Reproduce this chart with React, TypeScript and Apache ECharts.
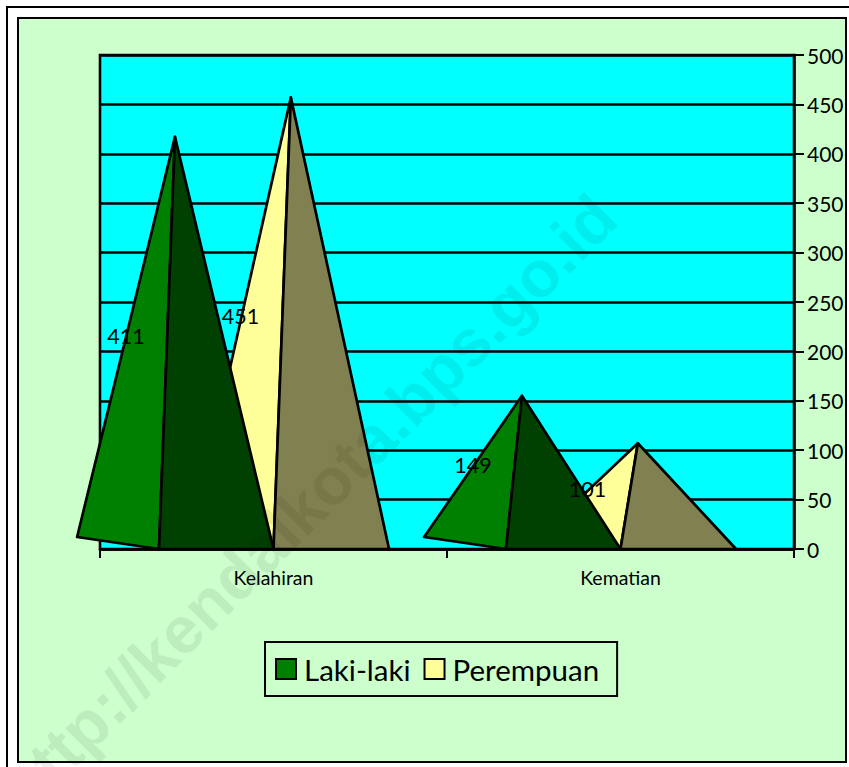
import React, { useEffect, useRef } from "react";
import * as echarts from "echarts";

const categories = ["Kelahiran", "Kematian"];
const lakiLaki = [411, 149];
const perempuan = [451, 101];
const yTicks = { min: 0, max: 500, step: 50 };
const FONT = "Lato, 'Open Sans', sans-serif";

// offsets as fractions of a category band
const lakiShape = { left: -0.566, front: -0.33, right: 0, apex: -0.284 };
const perempuanShape = { left: -0.235, front: 0, right: 0.333, apex: 0.05 };

function pyramid(shape: any, frontColor: string, sideColor: string, layer: number) {
  return (_params: any, api: any) => {
    const i = api.value(0);
    const v = api.value(1);
    const band = api.size([1, 0])[0];
    const [cx, base] = api.coord([i, 0]);
    const top = api.coord([i, v])[1];
    const apex = [cx + shape.apex * band, top - 6];
    const left = [cx + shape.left * band, base - 12];
    const front = [cx + shape.front * band, base];
    const right = [cx + shape.right * band, base];
    const stroke = { stroke: "#000", lineWidth: 2.7, lineJoin: "round" };
    return {
      type: "group",
      children: [
        { type: "polygon", z2: layer, shape: { points: [left, front, apex] }, style: { fill: frontColor, ...stroke } },
        { type: "polygon", z2: layer, shape: { points: [front, right, apex] }, style: { fill: sideColor, ...stroke } },
        {
          type: "text",
          z2: 10,
          style: {
            x: front[0] - 33,
            y: (base + top) / 2 - 10,
            text: String(v),
            fill: "#000",
            font: `21.5px ${FONT}`,
            align: "center",
            verticalAlign: "middle",
          },
        },
      ],
    };
  };
}

export default function App() {
  const ref = useRef<HTMLDivElement>(null);
  useEffect(() => {
    document.body.style.margin = "0";
    document.body.style.background = "#fff";
    const chart = echarts.init(ref.current!, null, { renderer: "svg" });
    chart.setOption({
      animation: false,
      backgroundColor: "#fff",
      graphic: [
        {
          type: "polyline",
          z: -10,
          silent: true,
          shape: { points: [[7, 767], [7, 7], [849, 7]] },
          style: { fill: "none", stroke: "#000", lineWidth: 2 },
        },
        {
          type: "rect",
          z: -10,
          silent: true,
          shape: { x: 18, y: 18, width: 828, height: 744 },
          style: { fill: "#CCFFCC", stroke: "#000", lineWidth: 2 },
        },
        {
          type: "text",
          z: 100,
          silent: true,
          x: 308,
          y: 503,
          rotation: Math.PI / 4,
          style: {
            text: "http://kendalkota.bps.go.id",
            font: "bold 66px 'Liberation Sans', Arial, sans-serif",
            fill: "rgba(0,0,0,0.07)",
            align: "center",
            verticalAlign: "middle",
          },
        },
      ],
      grid: {
        left: 100,
        top: 55,
        width: 694,
        height: 494,
        show: true,
        backgroundColor: "#00FFFF",
        borderColor: "#000",
        borderWidth: 2.6,
      },
      legend: {
        left: 265,
        top: 642,
        data: ["Laki-laki", "Perempuan"],
        icon: "rect",
        itemWidth: 20,
        itemHeight: 20,
        itemGap: 13,
        padding: [12, 18, 12, 10],
        borderColor: "#000",
        borderWidth: 2,
        selectedMode: false,
        textStyle: { fontFamily: FONT, fontSize: 29.5, color: "#000", padding: [0, 0, 0, 3] },
      },
      xAxis: {
        type: "category",
        data: categories,
        axisLine: { lineStyle: { color: "#000", width: 2.6 } },
        axisTick: { show: true, length: 9, alignWithLabel: false, lineStyle: { color: "#000", width: 2 } },
        axisLabel: { color: "#000", fontFamily: FONT, fontSize: 19.5, margin: 18 },
        splitLine: { show: false },
      },
      yAxis: {
        type: "value",
        position: "right",
        min: yTicks.min,
        max: yTicks.max,
        interval: yTicks.step,
        axisLine: { show: true, lineStyle: { color: "#000", width: 2.6 } },
        axisTick: { show: true, length: 10, lineStyle: { color: "#000", width: 2 } },
        axisLabel: { color: "#000", fontFamily: FONT, fontSize: 21, margin: 13, padding: [0, 0, 2, 0] },
        splitLine: { show: true, lineStyle: { color: "#000", width: 2.6 } },
      },
      series: [
        {
          name: "Laki-laki",
          type: "custom",
          clip: false,
          silent: true,
          encode: { x: 0, y: 1 },
          data: lakiLaki.map((v, i) => [i, v]),
          itemStyle: { color: "#008000", borderColor: "#000", borderWidth: 2 },
          renderItem: pyramid(lakiShape, "#008000", "#004000", 5),
        },
        {
          name: "Perempuan",
          type: "custom",
          clip: false,
          silent: true,
          encode: { x: 0, y: 1 },
          data: perempuan.map((v, i) => [i, v]),
          itemStyle: { color: "#FFFF99", borderColor: "#000", borderWidth: 2 },
          renderItem: pyramid(perempuanShape, "#FFFF99", "#808050", 3),
        },
      ],
    });
    return () => chart.dispose();
  }, []);
  return <div ref={ref} style={{ width: 849, height: 767 }} />;
}
